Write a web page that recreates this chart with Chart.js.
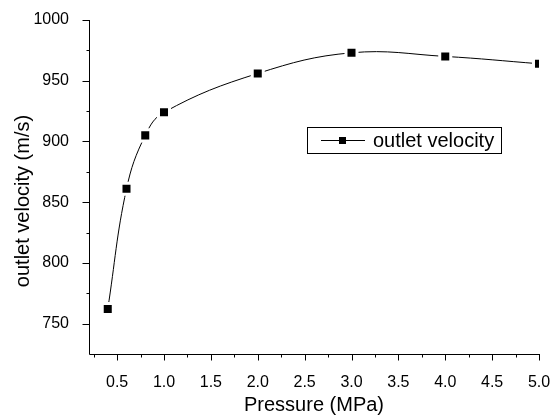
<!DOCTYPE html>
<html>
<head>
<meta charset="utf-8">
<script src="https://cdn.jsdelivr.net/npm/chart.js@4"></script>
<style>
  body { margin: 0; background: #fff; }
  canvas { display: block; }
</style>
</head>
<body>
<canvas id="chart" width="552" height="416"></canvas>
<script>
// values
const pressure = [0.4, 0.6, 0.8, 1.0, 2.0, 3.0, 4.0, 5.0];
const velocity = [762, 861, 905, 924, 956, 973, 970, 964];
const xTicks = [0.5, 1.0, 1.5, 2.0, 2.5, 3.0, 3.5, 4.0, 4.5, 5.0];
const yTicks = [750, 800, 850, 900, 950, 1000];
const seriesName = 'outlet velocity';
const xTitle = 'Pressure (MPa)';
const yTitle = 'outlet velocity (m/s)';

const FONT = '"Liberation Sans", Arial, sans-serif';

// axes, ticks (major + minor), titles and legend box drawn by hand (Origin look)
const originLook = {
    id: 'originLook',
    afterDraw(chart) {
        const ctx = chart.ctx;
        const area = chart.chartArea;
        const xs = chart.scales.x;
        const ys = chart.scales.y;
        const ax = Math.round(area.left) + 0.5;
        const ay = Math.round(area.bottom) + 0.5;

        ctx.save();
        ctx.strokeStyle = '#000';
        ctx.lineWidth = 1;
        ctx.beginPath();
        ctx.moveTo(ax, Math.round(area.top));
        ctx.lineTo(ax, ay);
        ctx.lineTo(Math.round(area.right) + 1, ay);
        xTicks.forEach(v => {
            const px = Math.round(xs.getPixelForValue(v)) + 0.5;
            ctx.moveTo(px, ay);
            ctx.lineTo(px, ay + 6);
            const m = v - 0.25;
            if (m >= xs.min) {
                const mx = Math.round(xs.getPixelForValue(m)) + 0.5;
                ctx.moveTo(mx, ay);
                ctx.lineTo(mx, ay + 3);
            }
        });
        yTicks.forEach(v => {
            const py = Math.round(ys.getPixelForValue(v)) + 0.5;
            ctx.moveTo(ax, py);
            ctx.lineTo(ax - 7, py);
            const m = v + 25;
            if (m < ys.max) {
                const my = Math.round(ys.getPixelForValue(m)) + 0.5;
                ctx.moveTo(ax, my);
                ctx.lineTo(ax - 3, my);
            }
        });
        ctx.stroke();

        // axis titles
        ctx.fillStyle = '#000';
        ctx.font = '20px ' + FONT;
        ctx.textAlign = 'center';
        ctx.textBaseline = 'alphabetic';
        ctx.fillText(xTitle, (area.left + area.right) / 2, 411);
        ctx.save();
        ctx.translate(29, 201);
        ctx.rotate(-Math.PI / 2);
        ctx.fillText(yTitle, 0, 0);
        ctx.restore();

        // legend box
        ctx.strokeRect(307.5, 127.5, 194, 26);
        ctx.beginPath();
        ctx.moveTo(321, 140.5);
        ctx.lineTo(365, 140.5);
        ctx.stroke();
        ctx.fillRect(339, 137, 7, 7);
        ctx.textAlign = 'left';
        ctx.textBaseline = 'middle';
        ctx.fillText(seriesName, 373, 141);
        ctx.restore();
    }
};

new Chart(document.getElementById('chart'), {
    type: 'line',
    data: {
        datasets: [{
            label: seriesName,
            data: pressure.map((p, i) => ({ x: p, y: velocity[i] })),
            borderColor: '#000',
            borderWidth: 1,
            tension: 0.4,
            pointStyle: 'rect',
            pointRadius: 7.8,
            pointBackgroundColor: '#000',
            pointBorderColor: '#fff',
            pointBorderWidth: 3,
            fill: false
        }]
    },
    options: {
        responsive: false,
        animation: false,
        layout: { padding: { top: 20, right: 13, left: 0, bottom: 0 } },
        plugins: {
            legend: { display: false },
            tooltip: { enabled: false }
        },
        scales: {
            x: {
                type: 'linear',
                min: 0.2,
                max: 5.0,
                afterBuildTicks: scale => { scale.ticks = xTicks.map(v => ({ value: v })); },
                afterFit: scale => {
                    scale.height = 62;
                    scale.paddingLeft = 0;
                    scale.paddingRight = 0;
                },
                grid: { display: false },
                border: { display: false },
                ticks: {
                    padding: 11,
                    color: '#000',
                    font: { family: FONT, size: 16 },
                    callback: v => v.toFixed(1)
                }
            },
            y: {
                min: 725,
                max: 1000,
                afterBuildTicks: scale => { scale.ticks = yTicks.map(v => ({ value: v })); },
                afterFit: scale => {
                    scale.width = 89;
                    scale.paddingTop = 0;
                    scale.paddingBottom = 0;
                },
                grid: { display: false },
                border: { display: false },
                ticks: {
                    padding: 12,
                    color: '#000',
                    font: { family: FONT, size: 16 },
                    callback: v => String(v)
                }
            }
        }
    },
    plugins: [originLook]
});
</script>
</body>
</html>
